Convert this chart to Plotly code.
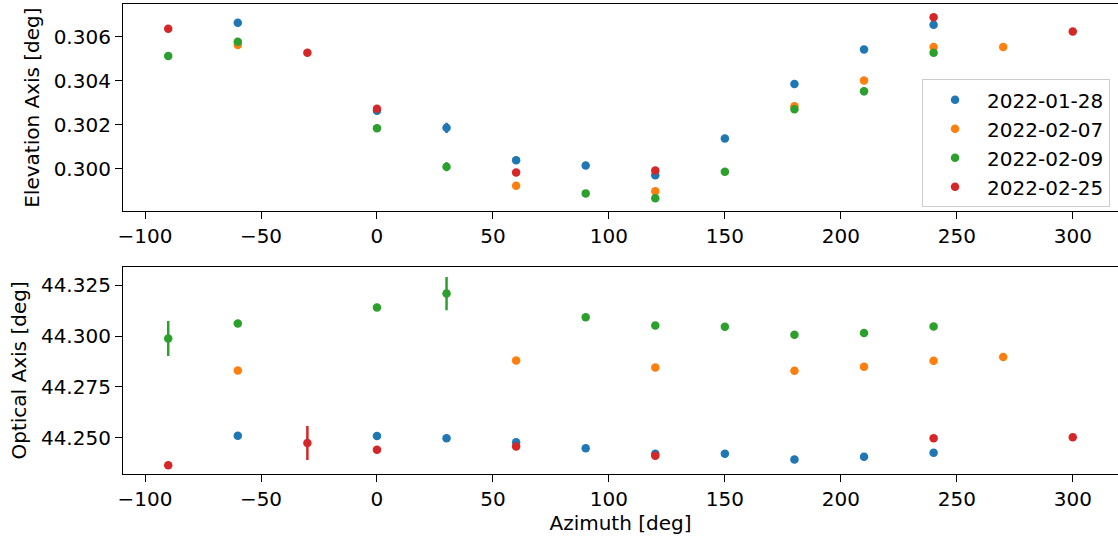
import plotly.graph_objects as go
from plotly.subplots import make_subplots

# ---- data ----
dates = ["2022-01-28", "2022-02-07", "2022-02-09", "2022-02-25"]
colors = ["#1f77b4", "#ff7f0e", "#2ca02c", "#d62728"]

az_0128 = [-60, 0, 30, 60, 90, 120, 150, 180, 210, 240]
elev_0128 = [0.30663, 0.30263, 0.30185, 0.30038, 0.30014, 0.29970, 0.30137, 0.30384, 0.30541, 0.30654]
elev_err_0128 = [0.00005, 0.00005, 0.00023, 0.00005, 0.00005, 0.00005, 0.00005, 0.00005, 0.00005, 0.00005]
opt_0128 = [44.2510, 44.2508, 44.2497, 44.2477, 44.2448, 44.2421, 44.2421, 44.2393, 44.2406, 44.2426]
opt_err_0128 = [0.0008, 0.0008, 0.0008, 0.0008, 0.0008, 0.0008, 0.0008, 0.0008, 0.0008, 0.0008]

az_0207 = [-60, 60, 120, 180, 210, 240, 270]
elev_0207 = [0.30562, 0.29922, 0.29897, 0.30283, 0.30400, 0.30552, 0.30553]
elev_err_0207 = [0.00005, 0.00005, 0.00005, 0.00005, 0.00005, 0.00005, 0.00005]
opt_0207 = [44.2831, 44.2880, 44.2846, 44.2830, 44.2849, 44.2879, 44.2897]
opt_err_0207 = [0.0008, 0.0008, 0.0008, 0.0008, 0.0008, 0.0008, 0.0008]

az_0209 = [-90, -60, 0, 30, 90, 120, 150, 180, 210, 240]
elev_0209 = [0.30512, 0.30576, 0.30183, 0.30008, 0.29887, 0.29865, 0.29985, 0.30269, 0.30351, 0.30526]
elev_err_0209 = [0.00008, 0.00006, 0.00005, 0.00020, 0.00005, 0.00005, 0.00005, 0.00006, 0.00018, 0.00005]
opt_0209 = [44.2989, 44.3063, 44.3142, 44.3210, 44.3093, 44.3053, 44.3047, 44.3007, 44.3016, 44.3048]
opt_err_0209 = [0.0086, 0.0012, 0.0008, 0.0082, 0.0008, 0.0008, 0.0008, 0.0008, 0.0008, 0.0008]

az_0225 = [-90, -30, 0, 60, 120, 240, 300]
elev_0225 = [0.30635, 0.30526, 0.30272, 0.29982, 0.29991, 0.30688, 0.30623]
elev_err_0225 = [0.00005, 0.00005, 0.00005, 0.00005, 0.00005, 0.00005, 0.00005]
opt_0225 = [44.2364, 44.2474, 44.2441, 44.2456, 44.2411, 44.2497, 44.2502]
opt_err_0225 = [0.0008, 0.0084, 0.0008, 0.0008, 0.0008, 0.0008, 0.0008]

series = [
    (az_0128, elev_0128, elev_err_0128, opt_0128, opt_err_0128),
    (az_0207, elev_0207, elev_err_0207, opt_0207, opt_err_0207),
    (az_0209, elev_0209, elev_err_0209, opt_0209, opt_err_0209),
    (az_0225, elev_0225, elev_err_0225, opt_0225, opt_err_0225),
]

FONT = "DejaVu Sans"
FS = 20

fig = make_subplots(rows=2, cols=1, shared_xaxes=False, vertical_spacing=0.1183)

for (az, el, ele, op, ope), name, col in zip(series, dates, colors):
    fig.add_trace(go.Scatter(
        x=az, y=el, mode="markers", name=name,
        marker=dict(color=col, size=8.5),
        error_y=dict(type="data", array=ele, visible=True, color=col, thickness=2.5, width=0),
    ), row=1, col=1)
    fig.add_trace(go.Scatter(
        x=az, y=op, mode="markers", name=name, showlegend=False,
        marker=dict(color=col, size=8.5),
        error_y=dict(type="data", array=ope, visible=True, color=col, thickness=2.5, width=0),
    ), row=2, col=1)

axis_common = dict(
    showgrid=False, zeroline=False, showline=True, linecolor="black", linewidth=1.2,
    mirror=True, ticks="outside", ticklen=7, tickwidth=1.2, tickcolor="black",
    tickfont=dict(family=FONT, size=FS, color="black"),
)

fig.update_xaxes(**axis_common, range=[-109.5, 319.5], tick0=0, dtick=50)
fig.update_xaxes(title=dict(text="Azimuth [deg]", font=dict(family=FONT, size=FS, color="black"), standoff=4), row=2, col=1)

fig.update_yaxes(**axis_common)
fig.update_yaxes(range=[0.29806, 0.30748], tick0=0.300, dtick=0.002, tickformat=".3f",
                 title=dict(text="Elevation Axis [deg]", font=dict(family=FONT, size=FS, color="black"), standoff=8),
                 row=1, col=1)
fig.update_yaxes(range=[44.2321, 44.3342], tick0=44.250, dtick=0.025, tickformat=".3f",
                 title=dict(text="Optical Axis [deg]", font=dict(family=FONT, size=FS, color="black"), standoff=8),
                 row=2, col=1)

fig.update_layout(
    width=1118, height=540,
    margin=dict(l=123, r=0, t=4, b=66),
    paper_bgcolor="white", plot_bgcolor="white",
    font=dict(family=FONT, size=FS, color="black"),
    showlegend=True,
    legend=dict(
        x=0.992, y=0.8398, xanchor="right", yanchor="top",
        bgcolor="rgba(255,255,255,0.8)", bordercolor="#cccccc", borderwidth=1,
        font=dict(family=FONT, size=FS, color="black"),
        itemwidth=54, tracegroupgap=0,
    ),
)

fig.write_html("out.html", config={"displayModeBar": False},
               post_script="document.body.style.margin='0px';")
